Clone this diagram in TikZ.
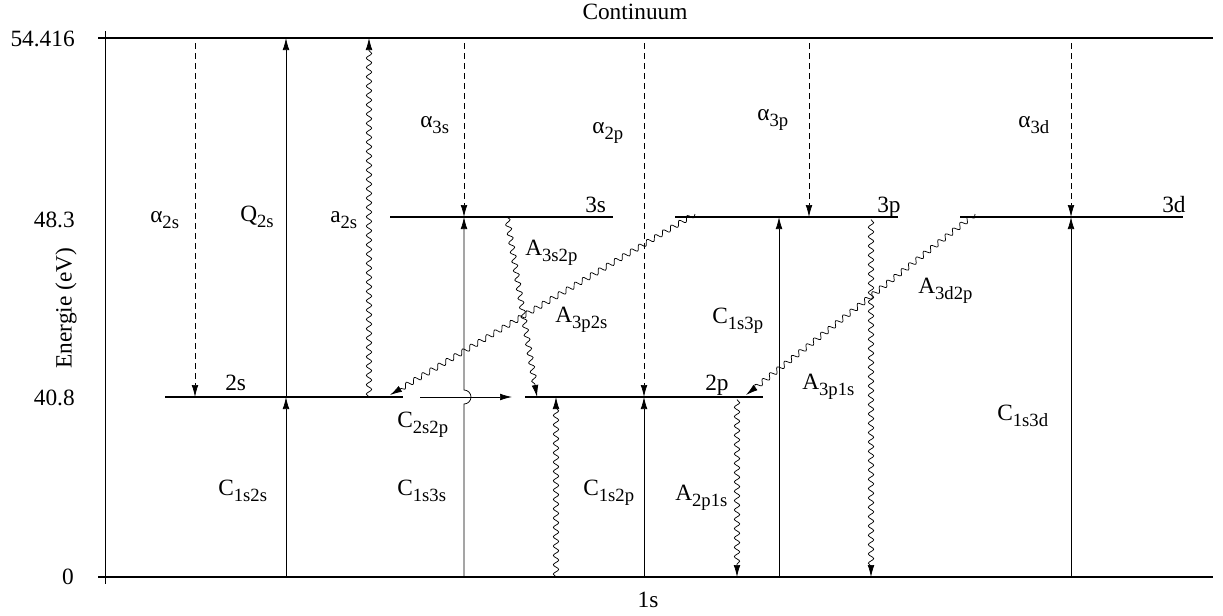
\documentclass[tikz,border=0pt]{standalone}
\usepackage{fontspec}
\setmainfont{Liberation Serif}
\usetikzlibrary{arrows.meta,decorations.pathmorphing}

\newcommand{\trl}[2]{#1\raisebox{-5pt}{\fontsize{14}{14}\selectfont #2}}

\begin{document}
\begin{tikzpicture}[
  x=0.75pt, y=-0.75pt,
  font=\fontsize{17.5}{20}\selectfont,
  level/.style={line width=1pt},
  trans/.style={line width=0.55pt, -{Latex[length=9pt,width=5pt]}},
  rate/.style={trans, dash pattern=on 4.5pt off 3pt, shorten <=4pt},
  wave/.style={trans, decorate, decoration={snake, amplitude=2pt, segment length=7pt, post length=8pt}},
  lbl/.style={inner sep=0pt, anchor=base west}
]
\useasboundingbox (0,0) rectangle (1223,615);

% energy levels (y only)
\coordinate (cont) at (0,38);
\coordinate (l3) at (0,217);
\coordinate (l2) at (0,397);
\coordinate (gnd) at (0,577);

% columns of the transitions
\foreach \n/\x in {a2s/195, q2s/286, w2s/369, a3s/464, c2a/420, c2b/512,
                   w2p/556, a2p/644, d2p/737, c3p/779, a3p/809, d3p/871, a3d/1071}
  \coordinate (\n) at (\x,0);

% axis
\draw[line width=0.5pt] (105,31) -- (105,584);
\draw[level] (98,38) -- (1213,38);
\draw[level] (98,577) -- (1213,577);

% levels
\draw[level] (390,217) -- (613,217);
\draw[level] (675,217) -- (898,217);
\draw[level] (960,217) -- (1183,217);
\draw[level] (165,397) -- (403,397);
\draw[level] (525,397) -- (763,397);

% tick labels
\node[anchor=east, inner sep=0pt] (t54) at (75,39) {54.416};
\node[anchor=east, inner sep=0pt] (t48) at (75,220) {48.3};
\node[anchor=east, inner sep=0pt] (t40) at (75,398) {40.8};
\node[anchor=east, inner sep=0pt] (t0) at (74,577) {0};
\node[rotate=90, inner sep=0pt] (ylab) at (66,308) {Energie (eV)};
\node[inner sep=0pt] (cnt) at (635,12) {Continuum};
\node[inner sep=0pt] (g1s) at (648,600) {1s};

% level names
\node[lbl] (n3s) at (585,212) {3s};
\node[lbl] (n3p) at (877,212) {3p};
\node[lbl] (n3d) at (1162,212) {3d};
\node[lbl] (n2s) at (225,390) {2s};
\node[lbl] (n2p) at (705,390) {2p};

% recombination into the levels
\draw[rate] (a2s |- cont) -- (a2s |- l2);
\draw[rate] (a3s |- cont) -- (a3s |- l3);
\draw[rate] (a2p |- cont) -- (a2p |- l2);
\draw[rate] (a3p |- cont) -- (a3p |- l3);
\draw[rate] (a3d |- cont) -- (a3d |- l3);

% collisions
\draw[trans] (q2s |- l2) -- (q2s |- cont);
\draw[trans] (q2s |- gnd) -- (q2s |- l2);
\coordinate (hop) at (a3s |- l2);
\draw[trans] (a3s |- gnd) -- ([yshift=-5.25pt]hop)
  arc[start angle=-90, end angle=90, radius=5.25pt] -- (a3s |- l3);
\draw[trans] (c2a |- l2) -- (c2b |- l2);
\draw[trans] (a2p |- gnd) -- (a2p |- l2);
\draw[trans] (c3p |- gnd) -- (c3p |- l3);
\draw[trans] (a3d |- gnd) -- (a3d |- l3);

% radiative transitions
\draw[wave] (w2s |- l2) -- (w2s |- cont);
\draw[wave] (w2p |- gnd) -- (w2p |- l2);
\draw[wave] ([yshift=-2pt]d2p |- l2) -- (d2p |- gnd);
\draw[wave] ([yshift=-2pt]d3p |- l3) -- (d3p |- gnd);
\coordinate (s3s) at (507,217);
\coordinate (e3s) at (537,397);
\draw[wave] (s3s) -- (e3s);
\coordinate (s3p) at (695,214);
\coordinate (e3p) at (390,395);
\draw[wave] (s3p) -- (e3p);
\coordinate (s3d) at (975,214);
\coordinate (e3d) at (746,395);
\draw[wave] (s3d) -- (e3d);

% rate labels
\node[lbl] (la2s) at (150,222) {\trl{α}{2s}};
\node[lbl] (lq2s) at (240,221) {\trl{Q}{2s}};
\node[lbl] (lw2s) at (330,222) {\trl{a}{2s}};
\node[lbl] (la3s) at (420,127) {\trl{α}{3s}};
\node[lbl] (la2p) at (592,133) {\trl{α}{2p}};
\node[lbl] (la3p) at (757,120) {\trl{α}{3p}};
\node[lbl] (la3d) at (1018,127) {\trl{α}{3d}};
\node[lbl] (lA3s) at (525,255) {\trl{A}{3s2p}};
\node[lbl] (lA3p) at (555,322) {\trl{A}{3p2s}};
\node[lbl] (lC3p) at (712,323) {\trl{C}{1s3p}};
\node[lbl] (lA3d) at (918,293) {\trl{A}{3d2p}};
\node[lbl] (lA31) at (802,389) {\trl{A}{3p1s}};
\node[lbl] (lC3d) at (997,420) {\trl{C}{1s3d}};
\node[lbl] (lC22) at (397,427) {\trl{C}{2s2p}};
\node[lbl] (lC2s) at (218,495) {\trl{C}{1s2s}};
\node[lbl] (lC3s) at (397,495) {\trl{C}{1s3s}};
\node[lbl] (lC2p) at (583,495) {\trl{C}{1s2p}};
\node[lbl] (lA21) at (675,500) {\trl{A}{2p1s}};

\end{tikzpicture}
\end{document}
